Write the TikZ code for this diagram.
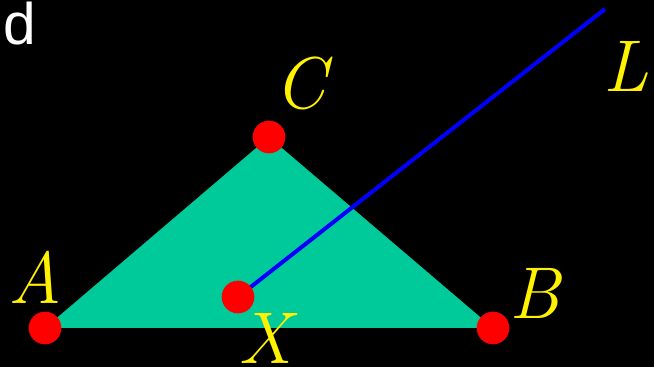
\documentclass[tikz,border=0pt]{standalone}
\usepackage{fontspec}
\newfontfamily\labelsans{Liberation Sans}
\definecolor{trigreen}{RGB}{0,201,154}
\begin{document}
\begin{tikzpicture}[x=0.75pt, y=-0.75pt,
    dot/.style={circle, fill=red, inner sep=0pt, minimum size=24.5pt},
    lbl/.style={text=yellow, inner sep=0pt, font=\rmfamily\itshape\addfontfeature{FakeBold=1.8}\fontsize{55}{60}\selectfont}]
    \fill[black] (0,0) rectangle (654,367);
    \useasboundingbox (0,0) rectangle (654,367);

    % points
    \coordinate (A) at (45,328);
    \coordinate (B) at (493,328);
    \coordinate (C) at (269,137);
    \coordinate (X) at (238,297);
    \coordinate (Lend) at (605,9);

    \fill[trigreen] (A) -- (B) -- (C) -- cycle;
    \draw[blue, line width=3pt] (X) -- (Lend);

    \node[dot] (dA) at (A) {};
    \node[dot] (dB) at (B) {};
    \node[dot] (dC) at (C) {};
    \node[dot] (dX) at (X) {};

    \node[lbl] (lA) at (35,277) {A};
    \node[lbl] (lB) at (535,293) {B};
    \node[lbl] (lC) at (300,83) {C};
    \node[lbl] (lL) at (626,66) {L};
    \node[lbl] (lX) at (265,338) {X};

    \node[text=white, inner sep=0pt, anchor=north west, font=\labelsans\fontsize{44}{50}\selectfont] (tag) at (3,2) {d};
\end{tikzpicture}
\end{document}
